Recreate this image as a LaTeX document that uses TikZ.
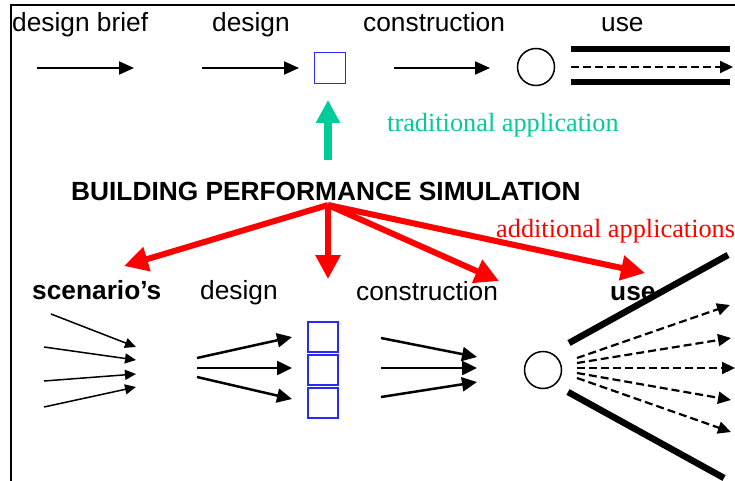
\documentclass[tikz,border=0pt]{standalone}
\usepackage{fontspec}
\setmainfont{Liberation Serif}
\setsansfont{Liberation Sans}
\usetikzlibrary{arrows.meta}

\definecolor{tradgreen}{RGB}{0,204,153}
\definecolor{boxblue}{RGB}{40,40,255}

\tikzset{
  lbl/.style={font=\sffamily\fontsize{26.3}{30}\selectfont, anchor=base west, inner sep=0pt},
  lblb/.style={lbl, font=\sffamily\bfseries\fontsize{26.3}{30}\selectfont},
  note/.style={font=\rmfamily\fontsize{26.3}{30}\selectfont, anchor=base west, inner sep=0pt},
  flow/.style={line width=2pt, -{Triangle[length=15pt,width=13pt]}},
  thinflow/.style={line width=1.5pt, -{Triangle[length=11pt,width=10pt]}},
  fatflow/.style={line width=2.5pt, -{Triangle[length=15pt,width=14pt]}},
  useflow/.style={line width=2.2pt, dash pattern=on 8pt off 4pt, -{Triangle[length=13pt,width=12pt]}},
  redarrow/.style={red, line width=6pt, -{Triangle[length=24pt,width=24pt]}},
  greenarrow/.style={tradgreen, line width=8pt, -{Triangle[length=23pt,width=23pt]}},
  wall/.style={line width=6.5pt},
  stage/.style={draw=boxblue, line width=1.5pt, minimum width=30pt, minimum height=30pt, inner sep=0pt},
  event/.style={circle, draw, line width=1.5pt, minimum size=37pt, inner sep=0pt}
}

\begin{document}
\begin{tikzpicture}[x=1pt,y=-1pt]
    \useasboundingbox (0,0) rectangle (735,481);
    % frame
    \draw[line width=2pt] (735,5.5) -- (11,5.5) -- (11,481);

    % traditional process
    \node[lbl] (brief) at (12,32) {design brief};
    \node[lbl] (des) at (212,32) {design};
    \node[lbl] (con) at (363,32) {construction};
    \node[lbl] (use) at (601,32) {use};
    \draw[flow] (37,68) -- (134,68);
    \draw[flow] (202,68) -- (299,68);
    \node[stage, minimum width=31pt, minimum height=31pt] (dbox) at (330,68) {};
    \draw[flow] (394,68) -- (490,68);
    \node[event] (cbox) at (536,67) {};
    \draw[wall] (571,49) -- (730,49);
    \draw[wall] (571,82) -- (730,82);
    \draw[useflow] (571,67) -- (733,67);

    % simulation
    \node[note, text=tradgreen] (trad) at (387,132) {traditional application};
    \node[lblb] (title) at (71,200) {BUILDING PERFORMANCE SIMULATION};
    \node[note, text=red] (add) at (496,237) {additional applications};
    \coordinate (gfoot) at (328,160);
    \coordinate (gtip) at (328,100);
    \draw[greenarrow] (gfoot) -- (gtip);
    \coordinate (sim) at (328,205);
    \coordinate (toscen) at (124,266);
    \coordinate (todes) at (328,279);
    \coordinate (tocon) at (499,281);
    \coordinate (touse) at (645,273);
    \draw[redarrow] (sim) -- (toscen);
    \draw[redarrow] (sim) -- (todes);
    \draw[redarrow] (sim) -- (tocon);
    \draw[redarrow] (sim) -- (touse);

    % new process
    \node[lblb] (scen) at (32,299) {scenario’s};
    \node[lbl] (des2) at (200,299) {design};
    \node[lbl] (con2) at (356,300) {construction};
    \node[lblb] (use2) at (610,300) {use};
    \foreach \xa/\ya/\yb in {51/314/347, 44/347/360, 44/381/374, 44/407/387}
        \draw[thinflow] (\xa,\ya) -- (136,\yb);
    \foreach \ya/\yb in {358/337, 368/368, 377/399}
        \draw[fatflow] (197,\ya) -- (292,\yb);
    \node[stage] (b1) at (323,337) {};
    \node[stage] (b2) at (323,370) {};
    \node[stage] (b3) at (323,403) {};
    \foreach \ya/\yb in {338/357, 368/368, 397/382}
        \draw[fatflow] (381,\ya) -- (477,\yb);
    \node[event] (c2) at (543,370) {};
    \draw[wall] (569,343) -- (728,255);
    \draw[wall] (568,392) -- (724,478);
    \foreach \ya/\xb/\yb in {358/730/305, 363/731/338, 368/735/368, 373/731/400, 378/731/432}
        \draw[useflow] (577,\ya) -- (\xb,\yb);
\end{tikzpicture}
\end{document}
